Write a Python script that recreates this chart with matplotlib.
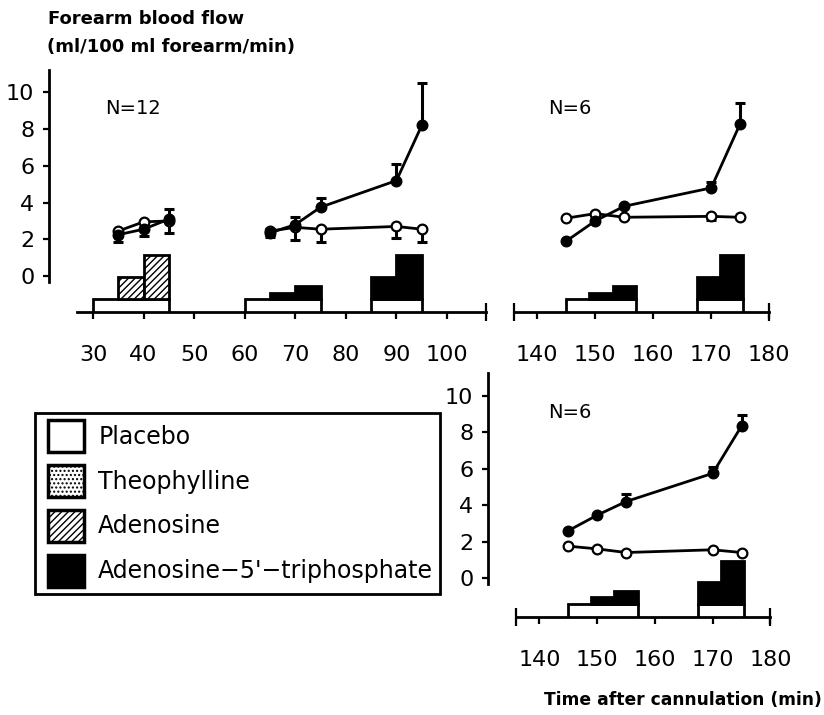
import matplotlib
matplotlib.use("Agg")
import matplotlib.pyplot as plt
from matplotlib.patches import Patch
from matplotlib.legend_handler import HandlerPatch

# ---------------- data ----------------
# top-left panel (N=12)
tl_x1 = [35, 40, 45]
tl_filled1 = [2.25, 2.55, 3.1]
tl_filled1_up = [0.0, 0.0, 0.55]
tl_filled1_dn = [0.4, 0.37, 0.75]
tl_open1 = [2.45, 2.95, 3.0]

tl_x2 = [65, 70, 75, 90, 95]
tl_filled2 = [2.35, 2.8, 3.75, 5.2, 8.2]
tl_filled2_up = [0.15, 0.4, 0.5, 0.9, 2.3]
tl_filled2_dn = [0.25, 0.0, 0.0, 0.0, 0.0]
tl_open2 = [2.45, 2.65, 2.55, 2.7, 2.55]
tl_open2_up = [0.1, 0.0, 0.0, 0.0, 0.0]
tl_open2_dn = [0.2, 0.7, 0.7, 0.65, 0.7]

# top-right panel (N=6)
tr_x = [145, 150, 155, 170, 175]
tr_filled = [1.9, 3.0, 3.8, 4.8, 8.3]
tr_filled_up = [0.0, 0.0, 0.0, 0.3, 1.1]
tr_open = [3.15, 3.4, 3.2, 3.25, 3.2]
tr_open_dn = [0.0, 0.0, 0.0, 0.2, 0.0]

# bottom-right panel (N=6)
br_x = [145, 150, 155, 170, 175]
br_filled = [2.6, 3.45, 4.2, 5.75, 8.35]
br_filled_up = [0.0, 0.0, 0.4, 0.35, 0.6]
br_open = [1.75, 1.6, 1.4, 1.55, 1.4]

# infusion bars (dose level above baseline)
placebo_level = 0.68
tl_placebo_left = [30, 60, 85]
tl_placebo_width = [15, 15, 10]
tl_aden_left = [35, 40]
tl_aden_level = [1.9, 3.08]
tl_atp_left = [65, 70, 85, 90]
tl_atp_level = [1.05, 1.41, 1.9, 3.08]
tl_drug_width = 5

r_placebo_left = [145, 167.5]
r_placebo_width = [12, 8]
r_atp_left = [149, 153, 167.5, 171.5]
r_atp_level = [1.05, 1.4, 1.9, 3.07]
r_drug_width = 4

tl_xticks = [30, 40, 50, 60, 70, 80, 90, 100]
r_xticks = [140, 150, 160, 170, 180]
yticks = [0, 2, 4, 6, 8, 10]

legend_labels = ["Placebo", "Theophylline", "Adenosine", "Adenosine\u22125'\u2212triphosphate"]

# ---------------- figure ----------------
plt.rcParams["font.family"] = ["DejaVu Sans"]
plt.rcParams["hatch.linewidth"] = 1.0
W, H = 824, 715
fig = plt.figure(figsize=(W / 100, H / 100), dpi=100)


def rect(x0, x1, y0, y1):
    return [x0 / W, 1 - y1 / H, (x1 - x0) / W, (y1 - y0) / H]


LW = 2.0
FS = 16


def style(ax, xlim, ylim, xbounds, xticks, ends, show_y=True):
    ax.set_xlim(*xlim)
    ax.set_ylim(*ylim)
    for s in ("top", "right"):
        ax.spines[s].set_visible(False)
    ax.spines["bottom"].set_bounds(*xbounds)
    ax.spines["bottom"].set_linewidth(LW)
    ax.set_xticks(xticks)
    ax.set_xticks(ends, minor=True)
    ax.xaxis.remove_overlapping_locs = False
    ax.tick_params(axis="x", which="major", direction="out", length=5, width=1.6,
                   pad=19, labelsize=FS)
    ax.tick_params(axis="x", which="minor", direction="inout", length=13, width=1.6)
    if show_y:
        ax.spines["left"].set_bounds(-0.35, 11.25)
        ax.spines["left"].set_linewidth(LW)
        ax.set_yticks(yticks)
        ax.tick_params(axis="y", direction="out", length=4.5, width=1.6, pad=6,
                       labelsize=FS)
    else:
        ax.spines["left"].set_visible(False)
        ax.set_yticks([])
    ax.patch.set_alpha(0)


def draw_series(ax, x, y, up, dn, filled):
    fc = "black" if filled else "white"
    ax.errorbar(x, y, yerr=[dn, up], fmt="none", ecolor="black", elinewidth=2.2,
                capsize=3.5, capthick=2.2, zorder=4)
    ax.plot(x, y, color="black", lw=2.0, marker="o", markersize=7.0,
            markerfacecolor=fc, markeredgecolor="black", markeredgewidth=1.6, zorder=5)


def draw_bars(ax, base, p_left, p_width, d_left, d_level, d_width, hatch=None, dcolor="black"):
    ax.bar(p_left, [placebo_level] * len(p_left), width=p_width, bottom=base, align="edge",
           facecolor="white", edgecolor="black", linewidth=LW, zorder=3)
    heights = [lv - placebo_level for lv in d_level]
    ax.bar(d_left, heights, width=d_width, bottom=base + placebo_level, align="edge",
           facecolor=dcolor, edgecolor="black", linewidth=LW, hatch=hatch, zorder=3)


zeros5 = [0] * 5
zeros3 = [0] * 3

# top-left
base_t = -1.95
ax1 = fig.add_axes(rect(49, 490, 68.6, 311.8))
style(ax1, (21.3, 108.5), (base_t, 11.3), (26.8, 107.7), tl_xticks, [107.7])
draw_bars(ax1, base_t, tl_placebo_left, tl_placebo_width, tl_aden_left, tl_aden_level,
          tl_drug_width, hatch="/////", dcolor="white")
ax1.bar(tl_atp_left, [lv - placebo_level for lv in tl_atp_level], width=tl_drug_width,
        bottom=base_t + placebo_level, align="edge", facecolor="black", edgecolor="black",
        linewidth=LW, zorder=3)
draw_series(ax1, tl_x1, tl_open1, zeros3, zeros3, False)
draw_series(ax1, tl_x1, tl_filled1, tl_filled1_up, tl_filled1_dn, True)
draw_series(ax1, tl_x2, tl_open2, tl_open2_up, tl_open2_dn, False)
draw_series(ax1, tl_x2, tl_filled2, tl_filled2_up, tl_filled2_dn, True)
ax1.text(32.4, 9.15, "N=12", fontsize=14, va="center", ha="left")

# top-right
ax2 = fig.add_axes(rect(514, 775, 68.6, 311.8))
style(ax2, (136, 181), (base_t, 11.3), (136, 180), r_xticks, [136, 180], show_y=False)
draw_bars(ax2, base_t, r_placebo_left, r_placebo_width, r_atp_left, r_atp_level, r_drug_width)
draw_series(ax2, tr_x, tr_open, zeros5, tr_open_dn, False)
draw_series(ax2, tr_x, tr_filled, tr_filled_up, zeros5, True)
ax2.text(141.9, 9.15, "N=6", fontsize=14, va="center", ha="left")

# bottom-right
base_b = -2.12
ax3 = fig.add_axes(rect(488, 776.2, 372.3, 616.6))
style(ax3, (131.1, 181), (base_b, 11.3), (136, 180), r_xticks, [136, 180])
draw_bars(ax3, base_b, r_placebo_left, r_placebo_width, r_atp_left, r_atp_level, r_drug_width)
draw_series(ax3, br_x, br_open, zeros5, zeros5, False)
draw_series(ax3, br_x, br_filled, br_filled_up, zeros5, True)
ax3.text(141.5, 9.07, "N=6", fontsize=14, va="center", ha="left")

# texts
fig.text(48 / W, 1 - 19 / H, "Forearm blood flow", fontsize=13, weight="bold", va="center")
fig.text(47 / W, 1 - 47 / H, "(ml/100 ml forearm/min)", fontsize=13, weight="bold",
         va="center")
fig.text(822 / W, 1 - 700 / H, "Time after cannulation (min)", fontsize=12.3,
         weight="bold", va="center", ha="right")

# legend
handles = [
    Patch(facecolor="white", edgecolor="black", linewidth=2.5),
    Patch(facecolor="white", edgecolor="black", linewidth=2.5, hatch="...."),
    Patch(facecolor="white", edgecolor="black", linewidth=2.5, hatch="/////"),
    Patch(facecolor="black", edgecolor="black", linewidth=2.5),
]
LFS = 17
leg = fig.legend(handles, legend_labels, loc="upper left",
                 bbox_to_anchor=(35 / W, 1 - 413 / H), borderaxespad=0,
                 fontsize=LFS, handlelength=1.76, handleheight=1.70, labelspacing=0.55,
                 handletextpad=0.62, borderpad=0.3, fancybox=False, framealpha=1,
                 edgecolor="black",
                 handler_map={Patch: HandlerPatch(xpad=0.24)})
leg.get_frame().set_linewidth(2.0)

fig.savefig("out.png", dpi=100)
